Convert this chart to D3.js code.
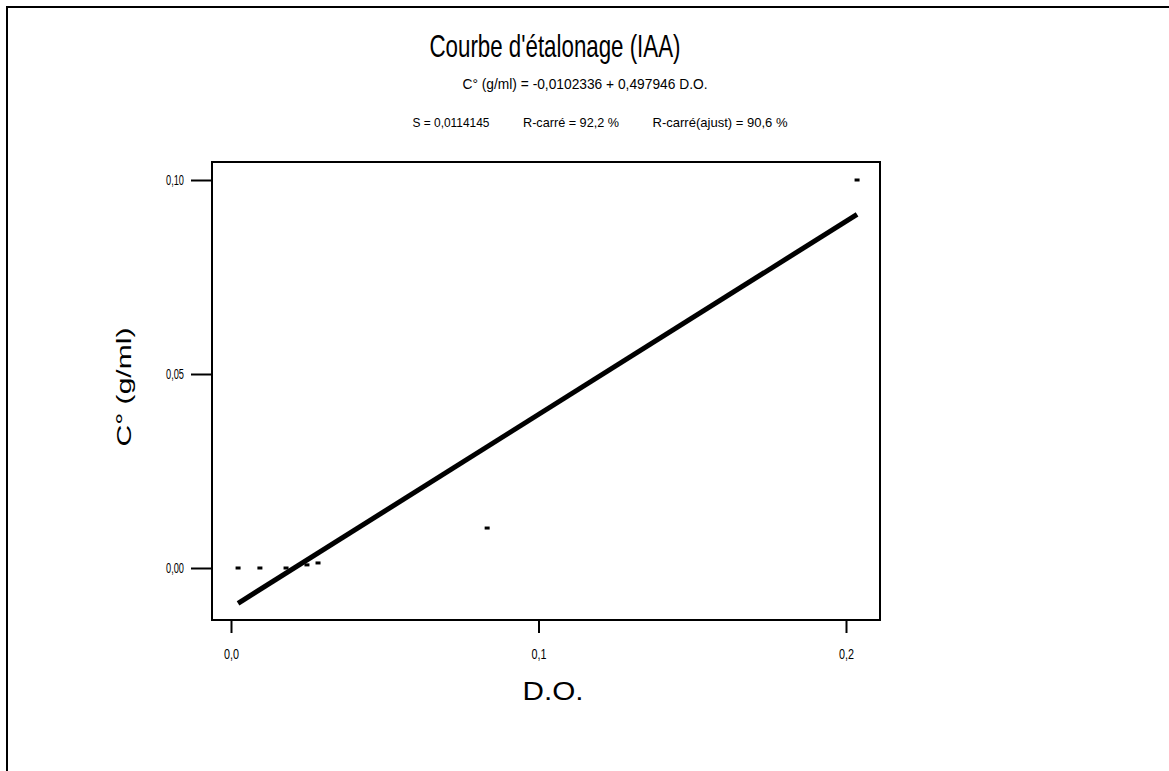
<!DOCTYPE html>
<html><head><meta charset="utf-8">
<script src="https://cdn.jsdelivr.net/npm/d3@7"></script>
<style>body{margin:0;background:#fff;} svg{display:block;} text{font-family:"Liberation Sans",Arial,sans-serif;fill:#000;}</style>
</head><body>
<svg id="c" width="1169" height="771"></svg>
<script>
// Data
const pointsDO = [0.0023, 0.0094, 0.0179, 0.0247, 0.0283, 0.0833, 0.2036];
const pointsC  = [0.0000, 0.0000, 0.0000, 0.0008, 0.0013, 0.0103, 0.1000];
const fitIntercept = -0.0102336;
const fitSlope = 0.497946;
const fitRange = [0.0023, 0.2036];
const xTicks = [0, 0.1, 0.2];
const xTickLabels = ["0,0", "0,1", "0,2"];
const yTicks = [0, 0.05, 0.10];
const yTickLabels = ["0,00", "0,05", "0,10"];
const title = "Courbe d'étalonage (IAA)";
const subtitle = "C° (g/ml) = -0,0102336 + 0,497946 D.O.";
const stats = ["S = 0,0114145", "R-carré = 92,2 %", "R-carré(ajust) = 90,6 %"];
const xLabel = "D.O.";
const yLabel = "C° (g/ml)";

const svg = d3.select("#c");
const x = d3.scaleLinear().domain([0, 0.2]).range([231, 846]);
const y = d3.scaleLinear().domain([0, 0.1]).range([568, 180]);

// outer frame (only top/left visible)
svg.append("rect").attr("x", 7).attr("y", 7).attr("width", 1300).attr("height", 900)
  .attr("fill", "none").attr("stroke", "#000").attr("stroke-width", 2);

// plot frame
svg.append("rect").attr("x", 212).attr("y", 162).attr("width", 668).attr("height", 458)
  .attr("fill", "none").attr("stroke", "#000").attr("stroke-width", 2);

// Y axis
const yAxis = svg.append("g").attr("transform", "translate(212,0)")
  .call(d3.axisLeft(y).tickValues(yTicks).tickSize(21).tickPadding(7)
    .tickFormat((d, i) => yTickLabels[i]));
yAxis.select(".domain").remove();
yAxis.selectAll("line").attr("stroke", "#000").attr("stroke-width", 2);
yAxis.selectAll("text").attr("font-size", 14).attr("font-family", "Liberation Sans, Arial, sans-serif")
  .attr("textLength", 18).attr("lengthAdjust", "spacingAndGlyphs");

// X axis
const xAxis = svg.append("g").attr("transform", "translate(0,620)")
  .call(d3.axisBottom(x).tickValues(xTicks).tickSize(13).tickPadding(16)
    .tickFormat((d, i) => xTickLabels[i]));
xAxis.select(".domain").remove();
xAxis.selectAll("line").attr("stroke", "#000").attr("stroke-width", 2);
xAxis.selectAll("text").attr("font-size", 14).attr("font-family", "Liberation Sans, Arial, sans-serif")
  .attr("textLength", 15).attr("lengthAdjust", "spacingAndGlyphs");

// fitted line
const fitPts = fitRange.map(d => [d, fitIntercept + fitSlope * d]);
svg.append("path").datum(fitPts)
  .attr("d", d3.line().x(d => x(d[0])).y(d => y(d[1])))
  .attr("fill", "none").attr("stroke", "#000").attr("stroke-width", 5).attr("stroke-linecap", "butt");

// data points as small dashes
svg.selectAll("rect.pt").data(pointsDO.map((d, i) => [d, pointsC[i]])).enter()
  .append("rect").attr("class", "pt")
  .attr("x", d => x(d[0]) - 2.5).attr("y", d => y(d[1]) - 1.5)
  .attr("width", 5).attr("height", 3).attr("fill", "#000");

// texts
function txt(s, cx, by, size, len, rot) {
  const t = svg.append("text").text(s).attr("font-size", size)
    .attr("text-anchor", "middle").attr("textLength", len).attr("lengthAdjust", "spacingAndGlyphs");
  if (rot) t.attr("transform", `translate(${cx},${by}) rotate(-90)`);
  else t.attr("x", cx).attr("y", by);
  return t;
}
txt(title, 555, 57, 32, 251);
txt(subtitle, 585, 89, 15, 245);
txt(stats[0], 451, 127, 13, 77);
txt(stats[1], 571, 127, 13, 96);
txt(stats[2], 720, 127, 13, 135);
txt(xLabel, 553, 700, 26, 61);
txt(yLabel, 131, 387, 21, 119, true);
</script>
</body></html>
